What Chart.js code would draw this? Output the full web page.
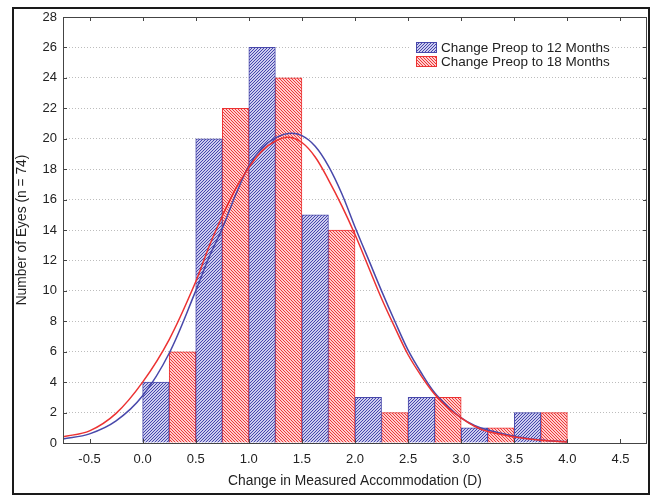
<!DOCTYPE html>
<html>
<head>
<meta charset="utf-8">
<script src="https://cdn.jsdelivr.net/npm/chart.js@4/dist/chart.umd.min.js"></script>
<style>
  html, body { margin: 0; padding: 0; background: #fff; }
  #wrap { width: 650px; height: 496px; position: relative; }
</style>
</head>
<body>
<div id="wrap"><canvas id="myChart" width="650" height="496"></canvas></div>
<script>
// histogram bins (lower edge of each bar, D)
const bins12 = [0.0, 0.5, 1.0, 1.5, 2.0, 2.5, 3.0, 3.5];
const counts12 = [4, 20, 26, 15, 3, 3, 1, 2];
const bins18 = [0.25, 0.75, 1.25, 1.75, 2.25, 2.75, 3.25, 3.75];
const counts18 = [6, 22, 24, 14, 2, 3, 1, 2];
const barWidth = 0.25;

// fitted curves
const curveX = [-0.75, -0.5, -0.25, 0.0, 0.25, 0.5, 0.625, 0.75, 0.875, 1.0, 1.125, 1.25, 1.375, 1.5, 1.625, 1.75, 1.875, 2.0, 2.125, 2.25, 2.375, 2.5, 2.625, 2.75, 2.875, 3.0, 3.125, 3.25, 3.5, 3.75, 4.0];
const curve12 = [0.26, 0.6, 1.45, 3.1, 5.9, 10.0, 12.2, 14.1, 16.3, 18.2, 19.4, 20.05, 20.35, 20.2, 19.5, 18.2, 16.4, 14.2, 12.1, 10.0, 8.0, 6.1, 4.6, 3.3, 2.4, 1.65, 1.15, 0.85, 0.45, 0.2, 0.08];
const curve18 = [0.41, 0.8, 1.95, 4.0, 6.8, 10.6, 12.9, 14.9, 16.7, 18.1, 19.2, 19.85, 20.1, 19.75, 18.8, 17.3, 15.6, 13.7, 11.6, 9.5, 7.6, 5.8, 4.4, 3.2, 2.3, 1.65, 1.1, 0.75, 0.4, 0.18, 0.07];

const xTicks = [-0.5, 0.0, 0.5, 1.0, 1.5, 2.0, 2.5, 3.0, 3.5, 4.0, 4.5];
const yTicks = [0, 2, 4, 6, 8, 10, 12, 14, 16, 18, 20, 22, 24, 26, 28];
const labels = ["Change Preop to 12 Months", "Change Preop to 18 Months"];

const blue = "rgb(72,72,170)";
const red = "rgb(236,50,50)";
const fontFamily = "'Liberation Sans', Arial, sans-serif";

const makeHatch = (color, bg, forward) => {
  const c = document.createElement("canvas");
  c.width = 3;
  c.height = 3;
  const g = c.getContext("2d");
  g.fillStyle = bg;
  g.fillRect(0, 0, 3, 3);
  g.fillStyle = color;
  for (let i = 0; i < 3; i++) {
    g.fillRect(i, forward ? 2 - i : i, 1, 1);
  }
  return g.createPattern(c, "repeat");
};

const hatch12 = makeHatch("rgb(70,70,172)", "rgb(205,205,238)", true);
const hatch18 = makeHatch("rgb(236,58,58)", "rgb(255,205,205)", false);

const toPoints = (xs, ys) => xs.map((x, i) => ({ x: x, y: ys[i] }));
const toBars = (xs, ys) => xs.map((x, i) => ({ x: x + barWidth / 2, y: ys[i] }));

const framePlugin = {
  id: "frame",
  beforeDraw: (chart) => {
    const ctx = chart.ctx;
    ctx.save();
    ctx.fillStyle = "#fff";
    ctx.fillRect(0, 0, chart.width, chart.height);
    ctx.restore();
  },
  afterDraw: (chart) => {
    const { ctx, chartArea: a, scales } = chart;
    ctx.save();
    // plot box
    ctx.strokeStyle = "#444";
    ctx.lineWidth = 1;
    ctx.strokeRect(a.left + 0.5, a.top + 0.5, a.right - a.left - 1, a.bottom - a.top);
    // inward ticks
    ctx.beginPath();
    xTicks.forEach((v) => {
      const px = Math.round(scales.x.getPixelForValue(v)) + 0.5;
      ctx.moveTo(px, a.top);
      ctx.lineTo(px, a.top + 4);
      ctx.moveTo(px, a.bottom);
      ctx.lineTo(px, a.bottom - 4);
    });
    yTicks.forEach((v) => {
      const py = Math.round(scales.y.getPixelForValue(v)) + 0.5;
      ctx.moveTo(a.right, py);
      ctx.lineTo(a.right - 4, py);
      ctx.moveTo(a.left, py);
      ctx.lineTo(a.left + 4, py);
    });
    ctx.stroke();

    // legend
    const lx = 416;
    const ly = 42;
    ctx.fillStyle = "#fff";
    ctx.fillRect(lx - 5, ly - 4, 200, 31);
    const fills = [hatch12, hatch18];
    const borders = [blue, red];
    ctx.font = `13.5px ${fontFamily}`;
    ctx.textBaseline = "middle";
    labels.forEach((t, i) => {
      const y = ly + i * 14;
      ctx.fillStyle = fills[i];
      ctx.fillRect(lx, y, 21, 11);
      ctx.strokeStyle = borders[i];
      ctx.strokeRect(lx + 0.5, y + 0.5, 20, 10);
      ctx.fillStyle = "#222";
      ctx.fillText(t, lx + 25, y + 6);
    });

    // outer frame
    ctx.strokeStyle = "#1a1a1a";
    ctx.lineWidth = 2;
    ctx.strokeRect(13, 8, 636, 486);
    ctx.restore();
  },
};

const main = () => {
  const ctx = document.querySelector("canvas#myChart").getContext("2d");
  const config = {
    type: "bar",
    data: {
      datasets: [
        {
          type: "line",
          label: "fit18",
          data: toPoints(curveX, curve18),
          borderColor: red,
          borderWidth: 1.5,
          pointRadius: 0,
          tension: 0.35,
          fill: false,
        },
        {
          type: "line",
          label: "fit12",
          data: toPoints(curveX, curve12),
          borderColor: blue,
          borderWidth: 1.5,
          pointRadius: 0,
          tension: 0.35,
          fill: false,
        },
        {
          label: labels[0],
          data: toBars(bins12, counts12),
          backgroundColor: hatch12,
          borderColor: blue,
          borderWidth: 1,
          grouped: false,
          barPercentage: 1,
          categoryPercentage: 1,
        },
        {
          label: labels[1],
          data: toBars(bins18, counts18),
          backgroundColor: hatch18,
          borderColor: red,
          borderWidth: 1,
          grouped: false,
          barPercentage: 1,
          categoryPercentage: 1,
        },
      ],
    },
    options: {
      responsive: false,
      animation: false,
      events: [],
      layout: { padding: { left: 14, top: 17, right: 3, bottom: 0 } },
      plugins: {
        legend: { display: false },
        tooltip: { enabled: false },
      },
      scales: {
        x: {
          type: "linear",
          min: -0.75,
          max: 4.75,
          offset: false,
          afterBuildTicks: (scale) => {
            scale.ticks = xTicks.map((v) => ({ value: v }));
          },
          afterFit: (scale) => {
            scale.height = 53;
          },
          grid: { display: false, offset: false, drawTicks: false },
          border: { display: false },
          ticks: {
            padding: 9,
            color: "#222",
            font: { family: fontFamily, size: 13 },
            maxRotation: 0,
            callback: (v) => Number(v).toFixed(1),
          },
          title: {
            display: true,
            text: "Change in Measured Accommodation (D)",
            color: "#222",
            font: { family: fontFamily, size: 13.8 },
            padding: { top: 0, bottom: 7 },
          },
        },
        y: {
          min: 0,
          max: 28,
          afterBuildTicks: (scale) => {
            scale.ticks = yTicks.map((v) => ({ value: v }));
          },
          afterFit: (scale) => {
            scale.width = 49;
          },
          grid: { color: "#bdbdbd", drawTicks: false, lineWidth: 1 },
          border: { display: false, dash: [1, 2] },
          ticks: {
            padding: 6,
            color: "#222",
            font: { family: fontFamily, size: 13 },
          },
          title: {
            display: true,
            text: "Number of Eyes (n = 74)",
            color: "#222",
            font: { family: fontFamily, size: 13.8 },
            padding: { top: 0, bottom: 0 },
          },
        },
      },
    },
    plugins: [framePlugin],
  };
  const myChart = new Chart(ctx, config);
};
main();
</script>
</body>
</html>
